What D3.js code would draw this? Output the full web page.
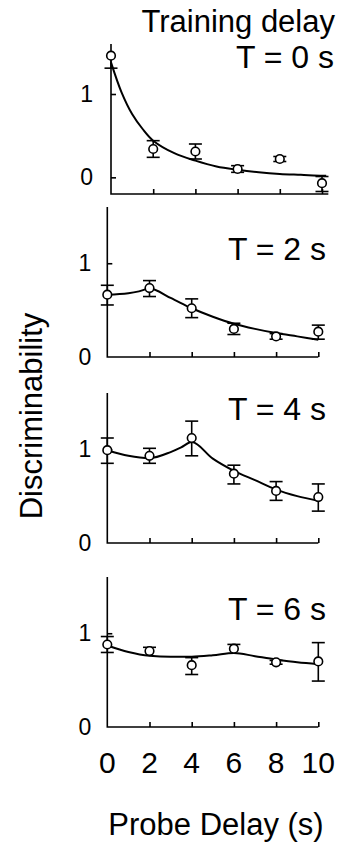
<!DOCTYPE html>
<html>
<head>
<meta charset="utf-8">
<script src="https://cdn.jsdelivr.net/npm/d3@7"></script>
<style>
  html, body { margin: 0; padding: 0; background: #fff; }
  svg { display: block; font-family: "Liberation Sans", Arial, sans-serif; }
  .axis-line { stroke: #000; stroke-width: 1.6; fill: none; }
  .fit { stroke: #000; stroke-width: 2; fill: none; }
  .err { stroke: #000; stroke-width: 1.6; }
  .pt { fill: #fff; stroke: #000; stroke-width: 1.6; }
</style>
</head>
<body>
<div id="chart"></div>
<script>
// Discriminability vs probe delay, one panel per training delay T.
const probeDelays = [0, 2, 4, 6, 8, 10];
const xTickLabels = ["0", "2", "4", "6", "8", "10"];
const yTickValues = [0, 1];
const panelLabels = ["T = 0 s", "T = 2 s", "T = 4 s", "T = 6 s"];

const meanT0 = [1.46, 0.34, 0.31, 0.10, 0.22, -0.07];
const errUpT0 = [0, 0.10, 0.09, 0.04, 0.03, 0.08];
const errDnT0 = [0.15, 0.10, 0.09, 0.04, 0.03, 0.10];

const meanT2 = [0.665, 0.735, 0.52, 0.30, 0.22, 0.27];
const errUpT2 = [0.10, 0.08, 0.10, 0.06, 0.03, 0.07];
const errDnT2 = [0.11, 0.09, 0.10, 0.06, 0.03, 0.08];

const meanT4 = [0.99, 0.93, 1.12, 0.74, 0.555, 0.49];
const errUpT4 = [0.13, 0.08, 0.18, 0.09, 0.10, 0.14];
const errDnT4 = [0.14, 0.08, 0.19, 0.11, 0.10, 0.15];

const meanT6 = [0.88, 0.81, 0.66, 0.836, 0.69, 0.70];
const errUpT6 = [0.085, 0.04, 0.08, 0.045, 0.02, 0.20];
const errDnT6 = [0.085, 0, 0.10, 0, 0.02, 0.21];

// fitted model curves
const fitXT0 = [0, 0.5, 1, 1.5, 2, 3, 4, 5, 6, 7, 8, 9, 10, 10.2];
const fitYT0 = [1.38, 1.02, 0.76, 0.58, 0.44, 0.29, 0.20, 0.13, 0.09, 0.06, 0.04, 0.03, 0.02, 0.02];
const fitXT2 = [0, 1, 1.5, 2, 3, 4, 5, 6, 7, 8, 9, 10];
const fitYT2 = [0.665, 0.68, 0.70, 0.73, 0.63, 0.52, 0.43, 0.355, 0.30, 0.255, 0.22, 0.185];
const fitXT4 = [0, 1, 2, 3, 3.5, 4, 5, 6, 7, 8, 9, 10];
const fitYT4 = [0.99, 0.93, 0.905, 0.97, 1.02, 1.077, 0.90, 0.77, 0.67, 0.57, 0.50, 0.45];
const fitXT6 = [0, 1, 2, 3, 4, 5, 6, 7, 8, 9, 10];
const fitYT6 = [0.87, 0.80, 0.76, 0.75, 0.75, 0.765, 0.79, 0.755, 0.72, 0.69, 0.67];

const means = [meanT0, meanT2, meanT4, meanT6];
const errUps = [errUpT0, errUpT2, errUpT4, errUpT6];
const errDns = [errDnT0, errDnT2, errDnT4, errDnT6];
const fitXs = [fitXT0, fitXT2, fitXT4, fitXT6];
const fitYs = [fitYT0, fitYT2, fitYT4, fitYT6];
const yDomains = [[-0.2, 1.6], [0, 1.6], [0, 1.6], [0, 1.6]];

const W = 338, H = 844;
const panelTop = [44, 207, 393, 577];
const panelLeft = [111, 107.3, 107.3, 107.3];
const panelH = 150, panelW = 211;
const labelBase = [68, 260, 420, 620];

const svg = d3.select("#chart").append("svg").attr("width", W).attr("height", H);

svg.append("text").attr("x", 335).attr("y", 32).attr("text-anchor", "end")
  .attr("font-size", 31).text("Training delay");

means.forEach((mean, p) => {
  const x = d3.scaleLinear([0, 10], [panelLeft[p], panelLeft[p] + panelW]);
  const y = d3.scaleLinear(yDomains[p], [panelTop[p] + panelH, panelTop[p]]);
  const g = svg.append("g");
  const xEnd = p === 0 ? x(10.3) : x(10);

  // axes: plain L-shaped frame with inward ticks
  const yAx = d3.axisRight(y).tickValues(yTickValues.filter((v) => v !== yDomains[p][0]))
    .tickSize(5).tickFormat("");
  g.append("g").attr("transform", `translate(${x(0)},0)`).call(yAx)
    .call((s) => s.select(".domain").remove())
    .call((s) => s.selectAll("line").attr("stroke-width", 1.6));
  const xAx = d3.axisTop(x).tickValues(probeDelays.slice(1)).tickSize(5).tickFormat("");
  g.append("g").attr("transform", `translate(0,${y.range()[0]})`).call(xAx)
    .call((s) => s.select(".domain").remove())
    .call((s) => s.selectAll("line").attr("stroke-width", 1.6));
  g.append("path").attr("class", "axis-line")
    .attr("d", `M${x(0)},${y.range()[1]}V${y.range()[0]}H${xEnd}`);

  g.selectAll(".ytl").data(yTickValues).join("text").attr("class", "ytl")
    .attr("x", x(0) - (p === 0 ? 18 : 16)).attr("y", (d) => y(d) + 8)
    .attr("text-anchor", "end").attr("font-size", 23).text((d) => d);

  g.append("text").attr("x", p === 0 ? 334 : 326).attr("y", labelBase[p])
    .attr("text-anchor", "end").attr("font-size", 32).text(panelLabels[p]);

  const pts = fitXs[p].map((v, i) => [v, fitYs[p][i]]);
  g.append("path").attr("class", "fit")
    .attr("d", d3.line().x((d) => x(d[0])).y((d) => y(d[1]))
      .curve(p === 0 ? d3.curveCatmullRom : d3.curveMonotoneX)(pts));

  probeDelays.forEach((d, i) => {
    const cx = x(d), m = mean[i];
    const up = errUps[p][i], dn = errDns[p][i];
    g.append("line").attr("class", "err").attr("x1", cx).attr("x2", cx)
      .attr("y1", y(m + up)).attr("y2", y(m - dn));
    if (up > 0) g.append("line").attr("class", "err").attr("x1", cx - 6.5).attr("x2", cx + 6.5)
      .attr("y1", y(m + up)).attr("y2", y(m + up));
    if (dn > 0) g.append("line").attr("class", "err").attr("x1", cx - 6.5).attr("x2", cx + 6.5)
      .attr("y1", y(m - dn)).attr("y2", y(m - dn));
    g.append("circle").attr("class", "pt").attr("cx", cx).attr("cy", y(m)).attr("r", 4.3);
  });

  if (p === 3) {
    g.selectAll(".xtl").data(probeDelays).join("text").attr("class", "xtl")
      .attr("x", (d) => x(d)).attr("y", 773).attr("text-anchor", "middle")
      .attr("font-size", 30).text((d, i) => xTickLabels[i]);
  }
});

svg.append("text").attr("x", 216).attr("y", 835).attr("text-anchor", "middle")
  .attr("font-size", 31).text("Probe Delay (s)");
svg.append("text").attr("transform", "translate(42,416) rotate(-90)")
  .attr("text-anchor", "middle").attr("font-size", 31).text("Discriminability");
</script>
</body>
</html>
